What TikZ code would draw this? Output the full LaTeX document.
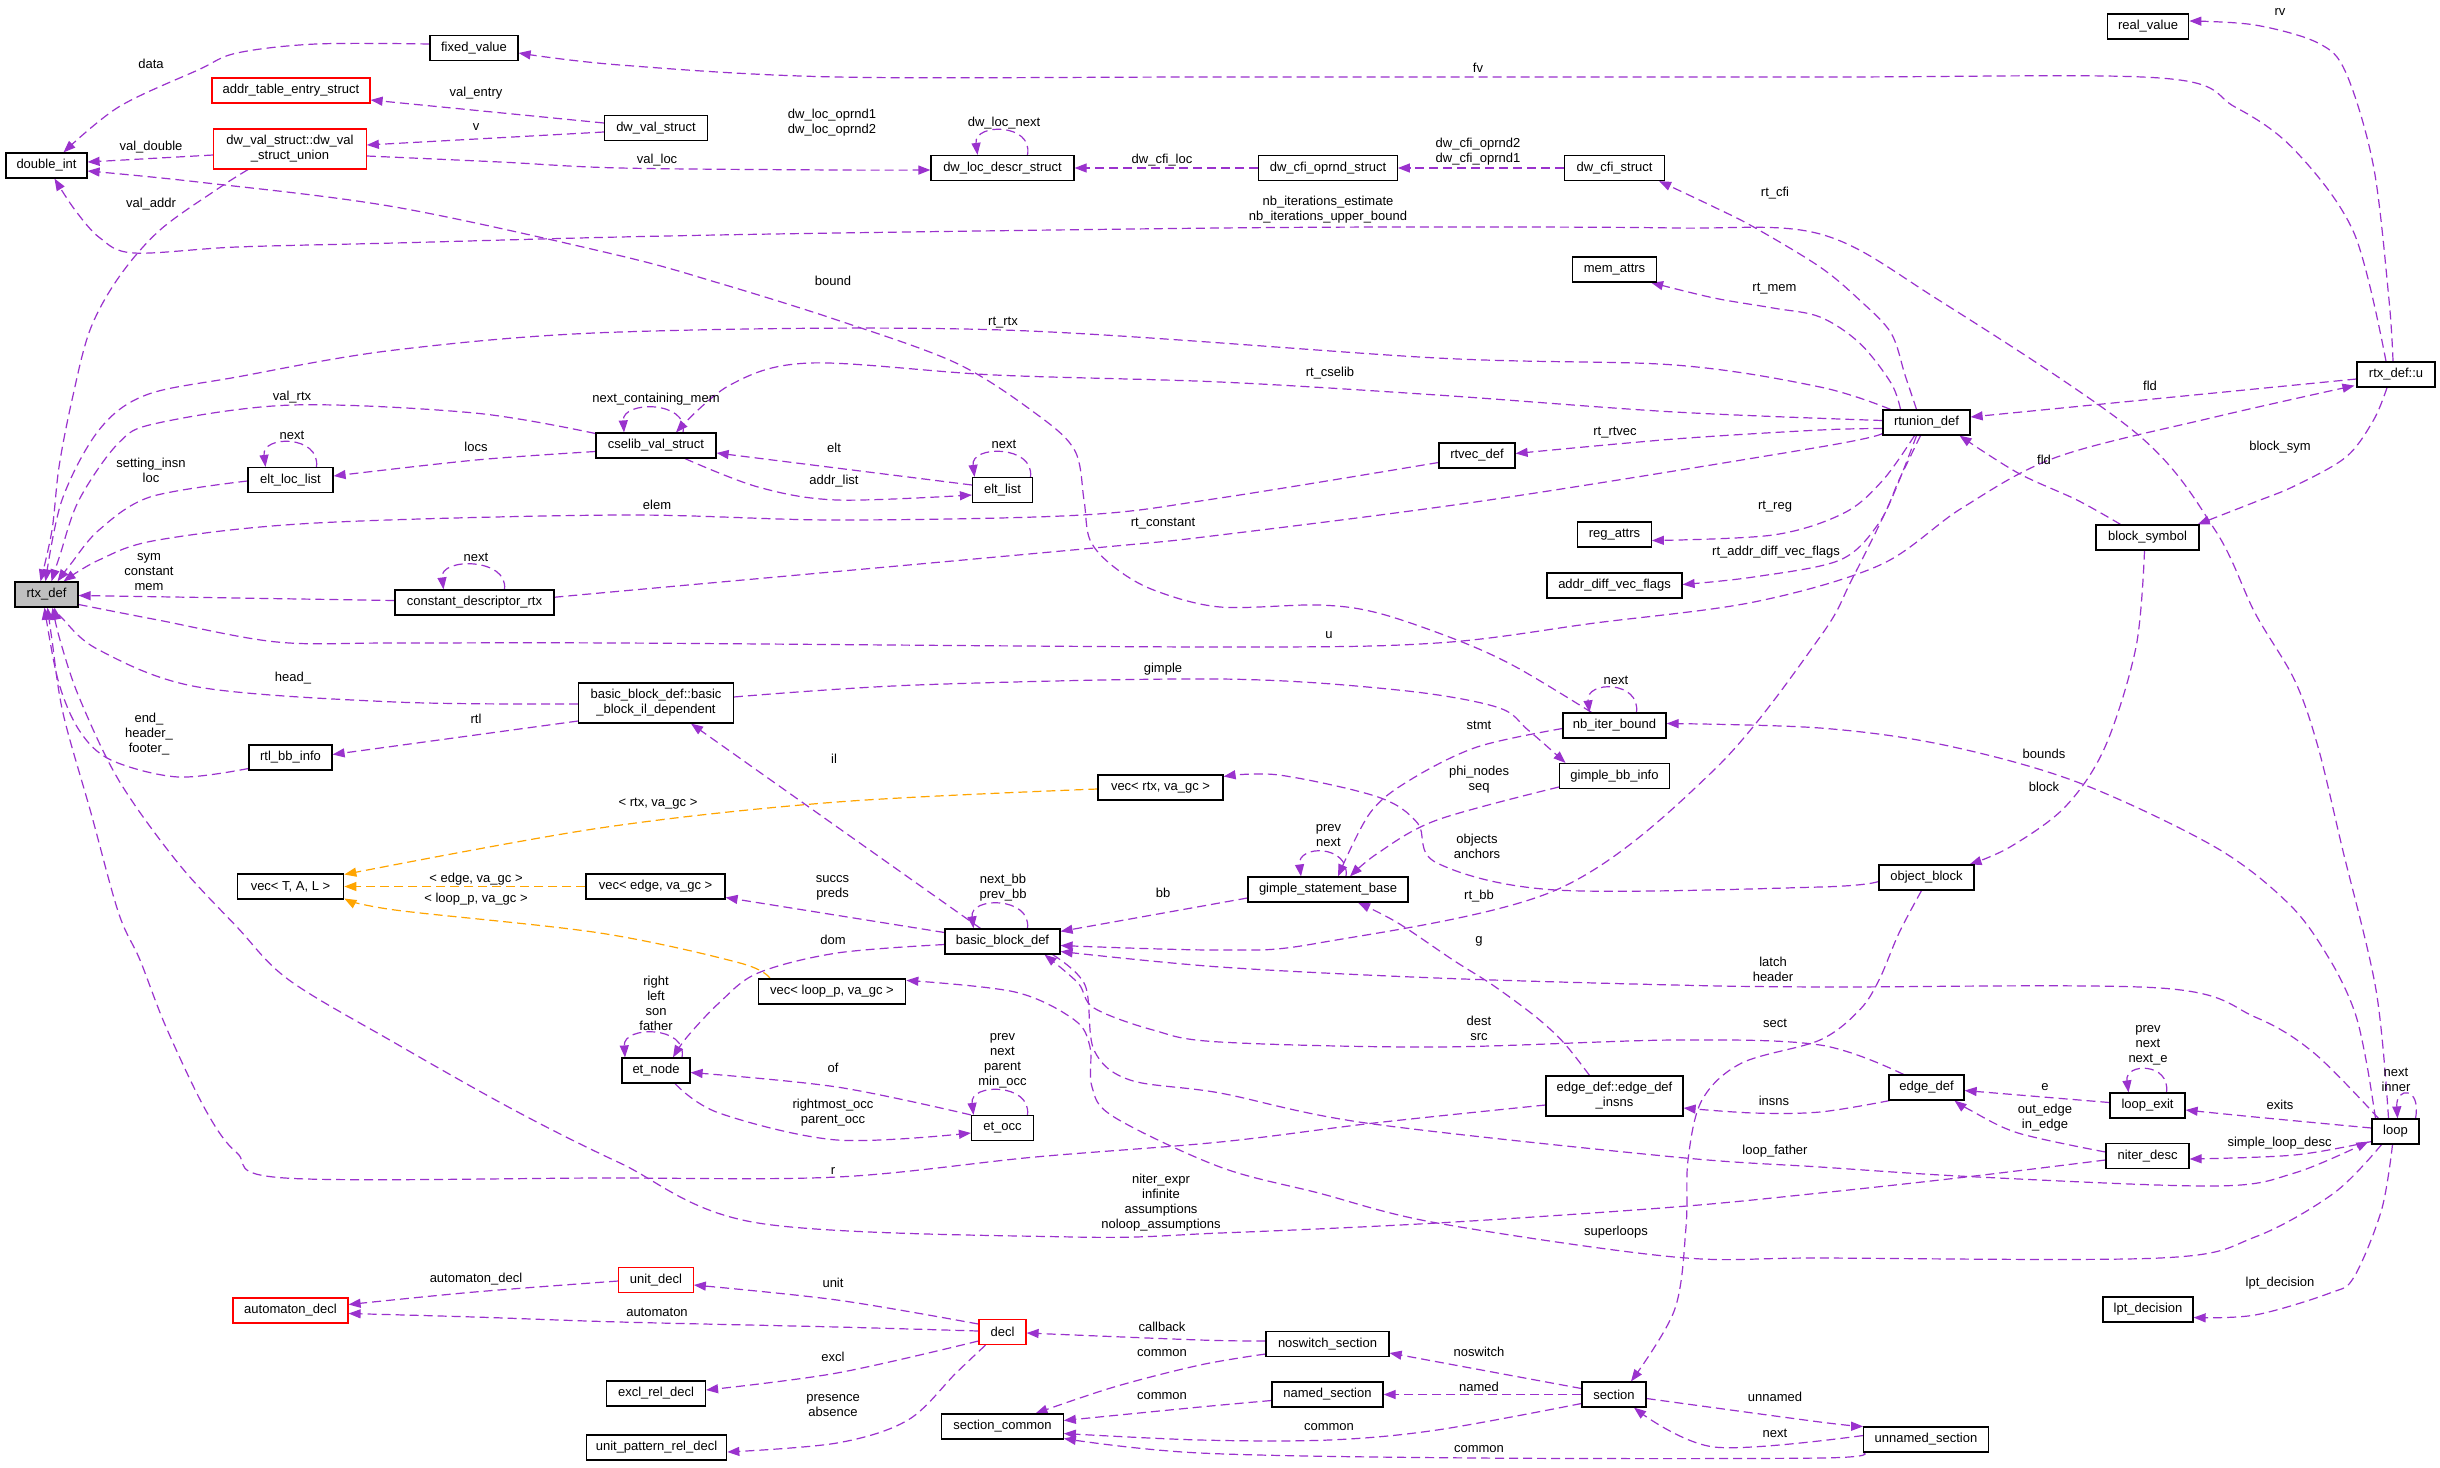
\documentclass[tikz,border=0pt]{standalone}
\usepackage{fontspec}
\setmainfont{Liberation Sans}
\usetikzlibrary{arrows.meta}
\definecolor{edgecol}{HTML}{9A32CD}
\definecolor{tmplcol}{HTML}{FFA500}
\definecolor{rtxgray}{HTML}{BFBFBF}
\newcommand\fs{\fontsize{13}{15}\selectfont}
\pgfdeclarelayer{bg}
\pgfsetlayers{bg,main}
\tikzset{
 cls/.style={draw=black, line width=1.2pt, fill=white, minimum height=25pt, inner xsep=2pt, inner ysep=1pt, font=\fs, align=center},
 rcls/.style={cls, draw=red},
 e/.style={draw=edgecol, line width=1.2pt, dash pattern=on 9pt off 5pt, -{Triangle[length=12pt,width=9pt,fill=edgecol]}},
 oe/.style={e, draw=tmplcol, -{Triangle[length=12pt,width=9pt,fill=tmplcol]}},
 lab/.style={font=\fs, inner sep=0pt, align=center},
 sm/.style={smooth, tension=0.55}
}
\begin{document}
\begin{tikzpicture}[x=1pt,y=-1pt]
\useasboundingbox (0,0) rectangle (2440,1467);
% ---------- nodes ----------
\node[cls,minimum width=88pt] (fv) at (474,48) {fixed\_value};
\node[rcls,minimum width=158pt] (ate) at (291,90.5) {addr\_table\_entry\_struct};
\node[rcls,minimum width=152.5pt,minimum height=40pt] (un) at (290,149) {dw\_val\_struct::dw\_val\\\_struct\_union};
\node[cls,minimum width=81pt] (di) at (46.5,165.5) {double\_int};
\node[cls,minimum width=103pt] (dvs) at (656,128) {dw\_val\_struct};
\node[cls,minimum width=143pt] (dld) at (1002.5,168) {dw\_loc\_descr\_struct};
\node[cls,minimum width=138.5pt] (dco) at (1328,168) {dw\_cfi\_oprnd\_struct};
\node[cls,minimum width=100pt] (dcs) at (1614.5,168) {dw\_cfi\_struct};
\node[cls,minimum width=81.5pt] (rv) at (2148,26.5) {real\_value};
\node[cls,minimum width=84pt] (ma) at (1614.5,269.5) {mem\_attrs};
\node[cls,minimum width=78pt] (rxu) at (2396,374.5) {rtx\_def::u};
\node[cls,minimum width=87pt] (rtu) at (1926.5,422.5) {rtunion\_def};
\node[cls,minimum width=120pt] (csv) at (656,445.5) {cselib\_val\_struct};
\node[cls,minimum width=85pt] (ell) at (290.5,480) {elt\_loc\_list};
\node[cls,minimum width=60pt] (el) at (1002.5,490) {elt\_list};
\node[cls,minimum width=76pt] (rvd) at (1477,455.5) {rtvec\_def};
\node[cls,minimum width=73.5pt] (ra) at (1614.5,534.5) {reg\_attrs};
\node[cls,minimum width=135pt] (adv) at (1614.5,585.5) {addr\_diff\_vec\_flags};
\node[cls,minimum width=103pt] (bs) at (2147.5,537.5) {block\_symbol};
\node[cls,fill=rtxgray,minimum width=63pt] (rtx) at (46.5,594.5) {rtx\_def};
\node[cls,minimum width=159pt] (cdr) at (474.5,602.5) {constant\_descriptor\_rtx};
\node[cls,minimum width=154.5pt,minimum height=40pt] (bbil) at (656,703) {basic\_block\_def::basic\\\_block\_il\_dependent};
\node[cls,minimum width=83pt] (rbi) at (290.5,757.5) {rtl\_bb\_info};
\node[cls,minimum width=103pt] (nib) at (1614.5,725.5) {nb\_iter\_bound};
\node[cls,minimum width=110pt] (gbi) at (1614.5,776) {gimple\_bb\_info};
\node[cls,minimum width=125pt] (vrtx) at (1160.5,787.5) {vec< rtx, va\_gc >};
\node[cls,minimum width=95pt] (ob) at (1926.5,877.5) {object\_block};
\node[cls,minimum width=106.5pt] (vtal) at (290.5,886.5) {vec< T, A, L >};
\node[cls,minimum width=139pt] (vedge) at (655.5,886.5) {vec< edge, va\_gc >};
\node[cls,minimum width=160pt] (gsb) at (1328,889.5) {gimple\_statement\_base};
\node[cls,minimum width=115pt] (bbd) at (1002.5,941.5) {basic\_block\_def};
\node[cls,minimum width=147.5pt] (vloop) at (832,991.5) {vec< loop\_p, va\_gc >};
\node[cls,minimum width=68pt] (etn) at (656,1070.5) {et\_node};
\node[cls,minimum width=62pt] (eto) at (1002.5,1128) {et\_occ};
\node[cls,minimum width=137pt,minimum height=40pt] (edi) at (1614.5,1096) {edge\_def::edge\_def\\\_insns};
\node[cls,minimum width=75pt] (ed) at (1926.5,1087.5) {edge\_def};
\node[cls,minimum width=75pt] (lex) at (2147.5,1105.5) {loop\_exit};
\node[cls,minimum width=83pt] (nd) at (2147.5,1156) {niter\_desc};
\node[cls,minimum width=47pt] (lp) at (2395.5,1131.5) {loop};
\node[rcls,minimum width=74.5pt] (ud) at (656,1280) {unit\_decl};
\node[rcls,minimum width=115pt] (ad) at (290.5,1310.5) {automaton\_decl};
\node[rcls,minimum width=47pt] (decl) at (1002.5,1332) {decl};
\node[cls,minimum width=90pt] (lpt) at (2148,1309.5) {lpt\_decision};
\node[cls,minimum width=123pt] (nss) at (1327.5,1344) {noswitch\_section};
\node[cls,minimum width=99pt] (erd) at (656,1393.5) {excl\_rel\_decl};
\node[cls,minimum width=111pt] (ns) at (1327.5,1394.5) {named\_section};
\node[cls,minimum width=64pt] (sec) at (1614,1394.5) {section};
\node[cls,minimum width=121.5pt] (sc) at (1002.5,1426.5) {section\_common};
\node[cls,minimum width=124.5pt] (uns) at (1926,1439.5) {unnamed\_section};
\node[cls,minimum width=140.5pt] (uprd) at (656.5,1447.5) {unit\_pattern\_rel\_decl};
% ---------- edges ----------
\begin{pgfonlayer}{bg}
\fill[white] (0,0) rectangle (2440,1467);
\draw[e] plot[sm] coordinates {([yshift=4pt]fv.west) (316,44) (237,53) (198,70) (118.6,107) ([xshift=17pt]di.north)};
\draw[e] ([yshift=5pt]dvs.west) -- ([yshift=-9.5pt]ate.east);
\draw[e] ([yshift=-4pt]dvs.west) -- ([yshift=4pt]un.east);
\draw[e] ([yshift=-6pt]un.west) -- ([yshift=3.5pt]di.east);
\draw[e] plot[sm] coordinates {([xshift=-42pt]un.south) (219,188) (160,230) (119,277) (90,330) (72,400) (59,467) (52,530) ([xshift=-6pt]rtx.north)};
\draw[e] plot[sm] coordinates {([yshift=-7pt]un.east) (500,162) (620,168) (837,170) ([yshift=-2pt]dld.west)};
\draw[e] ([xshift=25pt]dld.north) .. controls +(6,-32) and +(-4,-32) .. ([xshift=-25pt]dld.north);
\draw[e] (dco.west) -- (dld.east);
\draw[e] (dcs.west) -- (dco.east);
\draw[e] plot[sm] coordinates {([xshift=-10pt]rtu.north) (1905,375) (1891,333) (1859.5,300) (1820,267) (1753.6,227) (1714,207) ([xshift=-6pt]dcs.south east)};
\draw[e] plot[sm] coordinates {([xshift=-26pt]rtu.north) (1891,383) (1859.5,343) (1820,317) (1773,308) (1714,298) ([xshift=-6pt]ma.south east)};
\draw[e] ([yshift=-4.5pt]rxu.west) -- ([yshift=5.5pt]rtu.east);
\draw[e] plot[sm] coordinates {([xshift=-27pt]bs.north) (2077,500) (2018,473) ([xshift=33pt]rtu.south)};
\draw[e] plot[sm] coordinates {([xshift=-9pt]rxu.south) (2373.6,420) (2346,457) (2294.5,486) (2255,502) ([xshift=-2pt]bs.north east)};
\draw[e] plot[sm] coordinates {([xshift=-3pt]rxu.north) (2389,300) (2373.6,167) (2346,73) (2318,43) (2255,25) ([yshift=5.5pt]rv.east)};
\draw[e] plot[sm] coordinates {([xshift=-10pt]rxu.north) (2354,233) (2294.5,150) (2235,107) (2160,78) (1820,77) (1220,77) (837,77) (620,65) ([yshift=-5pt]fv.east)};
\draw[e] plot[sm] coordinates {([yshift=-10pt]rtx.east) (158,620) (277,642) (395,643) (620,643) (1220,647) (1437,643) (1595,623) (1754,602) (1880,565) (1962,508) (2057,457) (2215,417) ([xshift=-2pt,yshift=2pt]rxu.south west)};
\draw[e] plot[sm] coordinates {([xshift=-7pt]lp.north) (2376,990) (2342,847) (2318,747) (2294.5,680) (2255,613) (2215,530) (2136,433) (1938.6,300) (1820,234) (1674.5,228) (1437,227) (1220,228) (837,233) (620,237) (395,243) (237,247) (134,253) (100,238) (75,210) ([xshift=8pt]di.south)};
\draw[e] plot[sm] coordinates {([xshift=-23pt]nib.north) (1516,667) (1457,640) (1378,613) (1318.6,605) (1220,607) (1153.6,590) (1114,567) (1090,540) (1084,500) (1074.5,450) (1035,413) (956,363) (837,320) (718.6,283) (617,255) (395,207) (198,182) ([yshift=-5.5pt]di.east)};
\draw[e] ([xshift=22pt]nib.north) .. controls +(4,-32) and +(-4,-32) .. ([xshift=-25pt]nib.north);
\draw[e] plot[sm] coordinates {([yshift=-3pt]nib.west) (1477,747) (1410,780) (1370,813) ([xshift=10pt]gsb.north)};
\draw[e] plot[sm] coordinates {([yshift=-11pt]gbi.west) (1437,820) (1378,853) ([xshift=22pt]gsb.north)};
\draw[e] ([xshift=18pt]gsb.north) .. controls +(4,-32) and +(-4,-32) .. ([xshift=-27pt]gsb.north);
\draw[e] ([yshift=-8.5pt]gsb.west) -- ([yshift=-3pt]bbd.north east);
\draw[e] plot[sm] coordinates {([xshift=-10pt]rtu.south) (1891,500) (1851.6,580) (1820,637) (1714,770) (1556,890) (1318.6,943) (1220,950) ([yshift=-4pt]bbd.east)};
\draw[e] plot[sm] coordinates {([xshift=-17pt]lp.north) (2314,1053) (2255,1017) (2160,988) (1820,987) (1674.5,985) (1437,978) (1220,967) ([yshift=-10pt]bbd.east)};
\draw[e] plot[sm] coordinates {([xshift=-8pt]bbd.south east) (1085,985) (1094,1050) (1130,1080) (1220,1093) (1366,1123) (1674.5,1157) (1820,1167) (1978,1177) (2215,1186) (2294.5,1173) ([xshift=-3pt,yshift=3pt]lp.south west)};
\draw[e] plot[sm] coordinates {([xshift=-23pt]ed.north) (1820,1045) (1674.5,1040) (1437,1047) (1220,1042) (1153,1030) (1094,1008) (1078,983) ([xshift=42pt]bbd.south)};
\draw[e] plot[sm] coordinates {([xshift=-14pt]lp.south) (2334,1193) (2255,1237) (2160,1258) (1820,1258) (1674.5,1257) (1437,1223) (1318.6,1193) (1220,1167) (1114,1117) (1092,1087) (1090,1047) (1074.5,1020) (1015,992) ([yshift=-2pt]vloop.north east)};
\draw[oe] plot[sm] coordinates {([yshift=-1.5pt]vrtx.west) (837,802) (600,828) ([yshift=12pt]vtal.east)};
\draw[oe] (vedge.west) -- (vtal.east);
\draw[oe] plot[sm] coordinates {([xshift=-62pt]vloop.north) (740,963) (600,933) (395,910) ([yshift=-12pt]vtal.east)};
\draw[e] ([yshift=9pt]bbd.west) -- ([yshift=-11pt]vedge.east);
\draw[e] ([xshift=25pt]bbd.north) .. controls +(4,-32) and +(-4,-32) .. ([xshift=-29pt]bbd.north);
\draw[e] ([xshift=-22pt]bbd.north) -- ([xshift=35pt]bbil.south);
\draw[e] plot[sm] coordinates {([yshift=-3pt]bbd.west) (837,953) (758,973) (719,1003) (687,1037) ([xshift=17pt]etn.north)};
\draw[e] ([xshift=26pt]etn.north) .. controls +(6,-32) and +(-2,-32) .. ([xshift=-31pt]etn.north);
\draw[e] plot[sm] coordinates {(eto.north west) (837,1087) ([yshift=-2pt]etn.east)};
\draw[e] plot[sm] coordinates {([xshift=19pt]etn.south) (719,1113) (837,1140) ([yshift=-5pt]eto.west)};
\draw[e] ([xshift=25pt]eto.north) .. controls +(4,-32) and +(-4,-32) .. ([xshift=-29pt]eto.north);
\draw[e] plot[sm] coordinates {([yshift=-1pt]bbil.west) (395,702) (198,687) (99,650) (62,618) ([xshift=8pt]rtx.south)};
\draw[e] ([yshift=-18pt]bbil.west) -- ([yshift=3pt]rbi.east);
\draw[e] plot[sm] coordinates {([yshift=-11pt]rbi.west) (178,777) (111,760) (79,730) (58,680) ([xshift=-2pt]rtx.south)};
\draw[e] plot[sm] coordinates {([yshift=6pt]bbil.east) (916,685) (1220,679) (1398,690) (1496.5,707) (1528,730) ([xshift=-49pt]gbi.north)};
\draw[e] ([yshift=2pt]cdr.west) -- ([yshift=-1pt]rtx.east);
\draw[e] ([xshift=30pt]cdr.north) .. controls +(4,-32) and +(-4,-32) .. ([xshift=-31pt]cdr.north);
\draw[e] plot[sm] coordinates {([yshift=-11pt]rtu.west) (1820,447) (1489,500) (1220,535) (1094,548) (600,593) ([yshift=5pt]cdr.east)};
\draw[e] plot[sm] coordinates {([yshift=-6pt]rtu.west) (1820,430) (1674.5,439) ([yshift=2pt]rvd.east)};
\draw[e] plot[sm] coordinates {([yshift=2pt]rtu.west) (1674.5,412) (1437,395) (1220,382) (995,375) (810,363) (730,385) ([xshift=20pt]csv.north)};
\draw[e] plot[sm] coordinates {([xshift=-36pt]rtu.north) (1820,387) (1674.5,365) (1437,358) (1003,330) (620,332) (395,350) (237,377) (146,395) (99,430) (62,500) ([xshift=-1pt]rtx.north)};
\draw[e] plot[sm] coordinates {([xshift=-12pt]rtu.south) (1883,480) (1844,513) (1773,535) ([yshift=-6pt]ra.east)};
\draw[e] plot[sm] coordinates {([xshift=-6pt]rtu.south) (1899,480) (1879,523) (1840,560) (1753.6,577) ([yshift=1pt]adv.east)};
\draw[e] plot[sm] coordinates {([yshift=12pt]csv.west) (474.5,413) (292,405) (158,423) (118.6,443) (79,500) (60,555) ([xshift=5pt]rtx.north)};
\draw[e] plot[sm] coordinates {([yshift=-6pt]csv.west) (476,460) ([yshift=4pt]ell.east)};
\draw[e] ([yshift=5pt]el.west) -- ([yshift=-7.5pt]csv.east);
\draw[e] plot[sm] coordinates {([xshift=29pt]csv.south) (758,487) (837,500) ([yshift=-5pt]el.west)};
\draw[e] ([xshift=27pt]csv.north) .. controls +(6,-32) and +(-2,-32) .. ([xshift=-32pt]csv.north);
\draw[e] ([xshift=28pt]el.north) .. controls +(4,-32) and +(-4,-32) .. ([xshift=-28pt]el.north);
\draw[e] ([xshift=26pt]ell.north) .. controls +(4,-32) and +(-4,-32) .. ([xshift=-25pt]ell.north);
\draw[e] plot[sm] coordinates {([yshift=-1pt]ell.west) (150,497) (99,530) (70,565) ([xshift=11pt]rtx.north)};
\draw[e] plot[sm] coordinates {([yshift=-7pt]rvd.west) (1220,498) (1082,515) (837,520) (620,515) (316,523) (158,540) (99,560) ([xshift=17pt]rtx.north)};
\draw[e] plot[sm] coordinates {([yshift=-4pt]ob.west) (1820,887) (1556,890) (1437,863) (1417.5,823) (1378,797) (1279,775) ([yshift=11pt]vrtx.east)};
\draw[e] plot[sm] coordinates {([xshift=-5pt]ob.south) (1899,933) (1879,980) (1859.5,1010) (1820,1040) (1741.7,1063) (1702,1100) (1688,1160) (1686,1227) (1674.5,1310) ([xshift=17pt]sec.north)};
\draw[e] plot[sm] coordinates {([xshift=-3pt]bs.south) (2136,647) (2105,747) (2065,807) (2010,847) ([xshift=43pt]ob.north)};
\draw[e] plot[sm] coordinates {([xshift=-25pt]edi.north) (1564,1043) (1536,1017) (1492.6,985) (1453,960) (1398,923) ([xshift=30pt]gsb.south)};
\draw[e] plot[sm] coordinates {([xshift=-37pt]ed.south) (1820,1112) (1753.6,1113) ([yshift=-12pt]edi.east)};
\draw[e] plot[sm] coordinates {([yshift=-9pt]edi.west) (1374,1123) (1220,1142) (1035,1157) (837,1177) (600,1178) (285,1178) (237,1153) (205.6,1110) (166,1027) (140,960) (118.6,913) (91,813) (63,713) (52,640) ([xshift=1pt]rtx.south)};
\draw[e] plot[sm] coordinates {([yshift=-4pt]nd.west) (1966,1177) (1820,1193) (1674.5,1207) (1437,1223) (1220,1233) (1074,1237) (758,1223) (620,1163) (514,1110) (395,1043) (289,980) (237,927) (178,863) (118.6,780) (79,697) (60,640) ([xshift=6pt]rtx.south)};
\draw[e] ([yshift=3pt]lex.west) -- ([yshift=-3pt]ed.east);
\draw[e] plot[sm] coordinates {([yshift=4pt]nd.west) (2018,1133) (1970,1110) ([xshift=28pt]ed.south)};
\draw[e] ([xshift=19pt]lex.north) .. controls +(4,-30) and +(-4,-30) .. ([xshift=-19pt]lex.north);
\draw[e] plot[sm] coordinates {([yshift=3.5pt]lp.west) (2255,1117) ([yshift=-4.5pt]lex.east)};
\draw[e] plot[sm] coordinates {([yshift=-10pt]lp.west) (2294.5,1155) ([yshift=-3pt]nd.east)};
\draw[e] ([xshift=20pt]lp.north) .. controls +(6,-32) and +(-2,-32) .. ([xshift=2pt]lp.north);
\draw[e] plot[sm] coordinates {([xshift=-3pt]lp.south) (2381.5,1210) (2354,1277) (2330,1293) (2255,1315) ([yshift=-8pt]lpt.east)};
\draw[e] plot[sm] coordinates {([xshift=-20pt]lp.north) (2366,1060) (2354,1010) (2330,960) (2290,905) (2215,847) (2077,782) (1944,745) (1820,728) ([yshift=2pt]nib.east)};
% decl group
\draw[e] plot[sm] coordinates {([yshift=-1pt]ud.west) (474.5,1292) ([yshift=6pt]ad.east)};
\draw[e] plot[sm] coordinates {([yshift=1pt]decl.west) (837,1327) (620,1322) (474.5,1317) ([yshift=-3pt]ad.east)};
\draw[e] plot[sm] coordinates {([yshift=8pt]decl.west) (837,1300) ([yshift=-5pt]ud.east)};
\draw[e] plot[sm] coordinates {([yshift=-9pt]decl.west) (837,1373) ([yshift=3.5pt]erd.east)};
\draw[e] plot[sm] coordinates {([xshift=-17pt]decl.south) (956,1373) (908,1420) (837,1443) ([yshift=-4.5pt]uprd.east)};
\draw[e] plot[sm] coordinates {([yshift=3pt]nss.west) (1200,1340) ([yshift=-1pt]decl.east)};
\draw[e] plot[sm] coordinates {([yshift=-10pt]nss.west) (1200,1365) (1114,1387) ([xshift=33pt]sc.north)};
\draw[e] plot[sm] coordinates {([yshift=-6pt]ns.west) (1200,1407) ([yshift=6pt]sc.east)};
\draw[e] plot[sm] coordinates {([yshift=-9pt]sec.west) (1437,1430) (1329,1440) (1200,1440) ([yshift=-7pt]sc.east)};
\draw[e] plot[sm] coordinates {([yshift=-13pt]uns.west) (1820,1458) (1477,1458) (1200,1453) ([yshift=-12pt]sc.east)};
\draw[e] ([yshift=6pt]sec.west) -- ([yshift=-9pt]nss.east);
\draw[e] (sec.west) -- (ns.east);
\draw[e] plot[sm] coordinates {([yshift=-4pt]sec.east) (1820,1422) (uns.north west)};
\draw[e] plot[sm] coordinates {([yshift=4pt]uns.west) (1714,1447) ([xshift=20pt]sec.south)};
\end{pgfonlayer}
% ---------- labels ----------
\node[lab] (l1) at (151,64) {data};
\node[lab] (l2) at (476,93) {val\_entry};
\node[lab] (l3) at (476,127) {v};
\node[lab] (l4) at (151,147) {val\_double};
\node[lab] (l5) at (151,204) {val\_addr};
\node[lab] (l6) at (832,123) {dw\_loc\_oprnd1\\dw\_loc\_oprnd2};
\node[lab] (l7) at (1004,123) {dw\_loc\_next};
\node[lab] (l8) at (657,160) {val\_loc};
\node[lab] (l9) at (1162,160) {dw\_cfi\_loc};
\node[lab] (l10) at (1478,152) {dw\_cfi\_oprnd2\\dw\_cfi\_oprnd1};
\node[lab] (l11) at (1478,68) {fv};
\node[lab] (l12) at (2280,12) {rv};
\node[lab] (l13) at (1775,193) {rt\_cfi};
\node[lab] (l14) at (1328,210) {nb\_iterations\_estimate\\nb\_iterations\_upper\_bound};
\node[lab] (l15) at (1774.5,289) {rt\_mem};
\node[lab] (l16) at (833,281) {bound};
\node[lab] (l17) at (1003,323) {rt\_rtx};
\node[lab] (l18) at (1330,373) {rt\_cselib};
\node[lab] (l19) at (2150,386) {fld};
\node[lab] (l20) at (2044,460) {fld};
\node[lab] (l21) at (2280,447) {block\_sym};
\node[lab] (l22) at (656,399) {next\_containing\_mem};
\node[lab] (l23) at (292,397) {val\_rtx};
\node[lab] (l24) at (292,435) {next};
\node[lab] (l25) at (151,470.5) {setting\_insn\\loc};
\node[lab] (l26) at (476,447) {locs};
\node[lab] (l27) at (834,448) {elt};
\node[lab] (l28) at (834,481) {addr\_list};
\node[lab] (l29) at (1004,444) {next};
\node[lab] (l30) at (1615,433) {rt\_rtvec};
\node[lab] (l31) at (657,505) {elem};
\node[lab] (l32) at (1163,524) {rt\_constant};
\node[lab] (l33) at (1775,507) {rt\_reg};
\node[lab] (l34) at (1776,552) {rt\_addr\_diff\_vec\_flags};
\node[lab] (l35) at (149,572) {sym\\constant\\mem};
\node[lab] (l36) at (476,557) {next};
\node[lab] (l37) at (1329,635) {u};
\node[lab] (l38) at (293,678) {head\_};
\node[lab] (l39) at (1163,669) {gimple};
\node[lab] (l40) at (1616,680) {next};
\node[lab] (l41) at (476,719) {rtl};
\node[lab] (l42) at (149,734) {end\_\\header\_\\footer\_};
\node[lab] (l43) at (1479,725) {stmt};
\node[lab] (l44) at (2044,754) {bounds};
\node[lab] (l45) at (834,759) {il};
\node[lab] (l46) at (1479,780) {phi\_nodes\\seq};
\node[lab] (l47) at (2044,787) {block};
\node[lab] (l48) at (658,804) {< rtx, va\_gc >};
\node[lab] (l49) at (1328.5,836) {prev\\next};
\node[lab] (l50) at (1477,846) {objects\\anchors};
\node[lab] (l51) at (476,879) {< edge, va\_gc >};
\node[lab] (l52) at (832.5,887.5) {succs\\preds};
\node[lab] (l53) at (1003,887.5) {next\_bb\\prev\_bb};
\node[lab] (l54) at (1163,893) {bb};
\node[lab] (l55) at (1479,896) {rt\_bb};
\node[lab] (l56) at (476,899) {< loop\_p, va\_gc >};
\node[lab] (l57) at (833,940) {dom};
\node[lab] (l58) at (1479,941) {g};
\node[lab] (l59) at (1773,969) {latch\\header};
\node[lab] (l60) at (656,1003) {right\\left\\son\\father};
\node[lab] (l61) at (1479,1028.5) {dest\\src};
\node[lab] (l62) at (1775,1023) {sect};
\node[lab] (l63) at (1002.5,1061) {prev\\next\\parent\\min\_occ};
\node[lab] (l64) at (833,1068) {of};
\node[lab] (l65) at (2148,1045) {prev\\next\\next\_e};
\node[lab] (l66) at (2396,1079.5) {next\\inner};
\node[lab] (l67) at (2045,1087) {e};
\node[lab] (l68) at (1774,1101) {insns};
\node[lab] (l69) at (2280,1105) {exits};
\node[lab] (l70) at (833,1112.5) {rightmost\_occ\\parent\_occ};
\node[lab] (l71) at (2045,1118) {out\_edge\\in\_edge};
\node[lab] (l72) at (2279.5,1143) {simple\_loop\_desc};
\node[lab] (l73) at (1775,1151) {loop\_father};
\node[lab] (l74) at (833,1171) {r};
\node[lab] (l75) at (1161,1203) {niter\_expr\\infinite\\assumptions\\noloop\_assumptions};
\node[lab] (l76) at (1616,1232) {superloops};
\node[lab] (l77) at (476,1279) {automaton\_decl};
\node[lab] (l78) at (833,1283) {unit};
\node[lab] (l79) at (2280,1283) {lpt\_decision};
\node[lab] (l80) at (657,1312) {automaton};
\node[lab] (l81) at (1162,1327) {callback};
\node[lab] (l82) at (1479,1352) {noswitch};
\node[lab] (l83) at (1162,1353) {common};
\node[lab] (l84) at (833,1357) {excl};
\node[lab] (l85) at (1479,1387) {named};
\node[lab] (l86) at (1162,1396) {common};
\node[lab] (l87) at (1775,1397) {unnamed};
\node[lab] (l88) at (833,1406) {presence\\absence};
\node[lab] (l89) at (1329,1427) {common};
\node[lab] (l90) at (1775,1433) {next};
\node[lab] (l91) at (1479,1449) {common};
\end{tikzpicture}
\end{document}
